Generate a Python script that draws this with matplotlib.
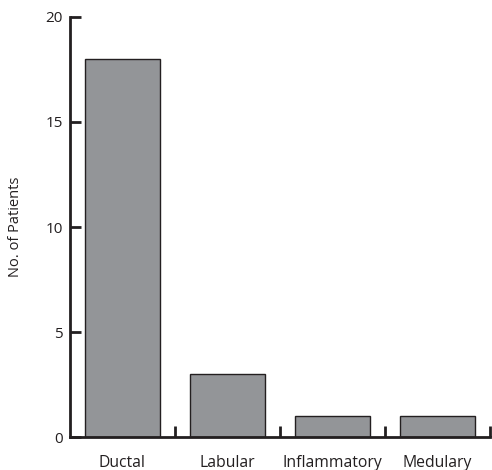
import matplotlib
matplotlib.use("Agg")
import matplotlib.pyplot as plt
import numpy as np

categories = ["Ductal", "Labular", "Inflammatory", "Medulary"]
patients = [18, 3, 1, 1]
yticks = [0, 5, 10, 15, 20]

plt.rcParams['font.family'] = ['Open Sans', 'DejaVu Sans']

fig = plt.figure(figsize=(4.92, 4.70), dpi=100)
ax = fig.add_axes([0.142, 0.070, 0.854, 0.894])

x = np.arange(len(categories))
ax.bar(x, patients, width=0.715, color="#939598", edgecolor="#231f20", linewidth=1.0, zorder=2)

ax.set_xlim(-0.5, len(categories) - 0.5)
ax.set_ylim(0, 20)
ax.set_yticks(yticks)
ax.set_xticks(x)
ax.set_xticklabels(categories, fontsize=11.3, color="#231f20")
ax.tick_params(axis='x', which='major', length=0, pad=13)
ax.set_xticks(list(x + 0.5), minor=True)
ax.tick_params(axis='x', which='minor', direction='in', length=8, width=2, color="#231f20")
ax.tick_params(axis='y', direction='in', length=8, width=2, color="#231f20", labelsize=11, labelcolor="#231f20", pad=5)
ax.set_ylabel("No. of Patients", fontsize=10.5, color="#231f20", labelpad=16)

for s in ["top", "right"]:
    ax.spines[s].set_visible(False)
for s in ["left", "bottom"]:
    ax.spines[s].set_linewidth(2)
    ax.spines[s].set_color("#231f20")

fig.savefig("out.png", dpi=100)
